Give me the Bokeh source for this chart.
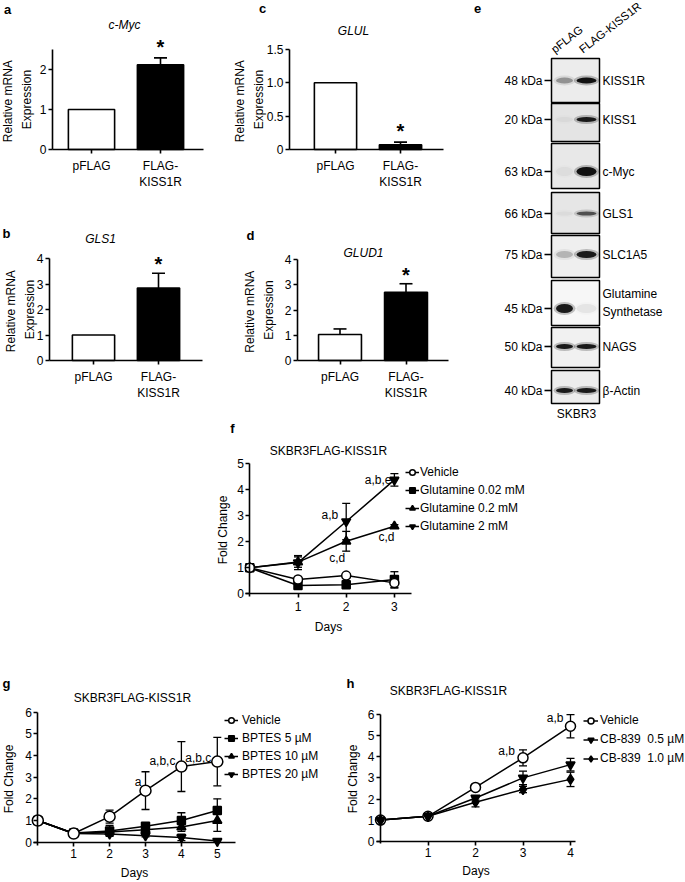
from bokeh.plotting import figure
from bokeh.models import (Range1d, Whisker, TeeHead, Label, Legend, LegendItem,
                          ColumnDataSource, Spacer)
from bokeh.layouts import row, column
from bokeh.embed import file_html
from bokeh.resources import INLINE
from bokeh.core.properties import value

FONT = "Liberation Sans"

# ------------------------------------------------------------------ data
bar_categories = ["pFLAG", "FLAG-\nKISS1R"]
bar_fills = ["white", "black"]

cmyc_mean = [1.0, 2.12]
cmyc_sem = [0.0, 0.17]
gls1_mean = [1.0, 2.84]
gls1_sem = [0.0, 0.58]
glul_mean = [1.0, 0.07]
glul_sem = [0.0, 0.04]
glud1_mean = [1.03, 2.70]
glud1_sem = [0.22, 0.34]

blot_lanes = ["pFLAG", "FLAG-KISS1R"]
blot_proteins = ["KISS1R", "KISS1", "c-Myc", "GLS1", "SLC1A5",
                 "Glutamine\nSynthetase", "NAGS", "β-Actin"]
blot_kda = ["48 kDa", "20 kDa", "63 kDa", "66 kDa", "75 kDa", "45 kDa", "50 kDa", "40 kDa"]
blot_pflag = [0.35, 0.04, 0.04, 0.04, 0.22, 0.95, 0.95, 0.95]
blot_kiss1r = [1.0, 0.95, 1.0, 0.65, 0.95, 0.06, 0.95, 0.95]

days_f = [0, 1, 2, 3]
f_vehicle = [1.0, 0.55, 0.70, 0.42]
f_vehicle_err = [0.0, 0.06, 0.06, 0.20]
f_gln002 = [1.0, 0.32, 0.35, 0.55]
f_gln002_err = [0.0, 0.05, 0.05, 0.30]
f_gln02 = [1.0, 1.22, 2.02, 2.60]
f_gln02_err = [0.0, 0.20, 0.38, 0.06]
f_gln2 = [1.0, 1.20, 2.78, 4.38]
f_gln2_err = [0.0, 0.27, 0.70, 0.24]

days_g = [0, 1, 2, 3, 4, 5]
g_vehicle = [1.0, 0.40, 1.18, 2.38, 3.49, 3.72]
g_vehicle_err = [0.0, 0.05, 0.30, 0.87, 1.15, 1.12]
g_bptes5 = [1.0, 0.42, 0.52, 0.74, 1.00, 1.46]
g_bptes5_err = [0.0, 0.05, 0.25, 0.10, 0.36, 0.54]
g_bptes10 = [1.0, 0.40, 0.47, 0.57, 0.70, 1.00]
g_bptes10_err = [0.0, 0.05, 0.10, 0.10, 0.20, 0.50]
g_bptes20 = [1.0, 0.40, 0.38, 0.30, 0.22, 0.05]
g_bptes20_err = [0.0, 0.05, 0.05, 0.05, 0.15, 0.05]

days_h = [0, 1, 2, 3, 4]
h_vehicle = [1.0, 1.18, 2.55, 3.95, 5.45]
h_vehicle_err = [0.0, 0.05, 0.08, 0.38, 0.55]
h_cb05 = [1.0, 1.18, 2.05, 3.00, 3.63]
h_cb05_err = [0.0, 0.05, 0.10, 0.32, 0.30]
h_cb10 = [1.0, 1.18, 1.85, 2.45, 2.93]
h_cb10_err = [0.0, 0.05, 0.22, 0.15, 0.34]


# ------------------------------------------------------------------ helpers
def make_fig(box, xmap, ymap):
    """box = (ox, oy, W, H) page position; xmap/ymap = (data ref, pixel ref, px per unit).
    The frame fills the whole figure; axes are drawn at fixed locations inside it."""
    ox, oy, W, H = box
    xr, pxr, sx = xmap
    yr, pyr, sy = ymap
    x0 = xr - (pxr - ox) / sx
    y1 = yr + (pyr - oy) / sy
    p = figure(width=W, height=H, x_range=Range1d(x0, x0 + W / sx),
               y_range=Range1d(y1 - H / sy, y1), output_backend="svg",
               toolbar_location=None, title=None, min_border=0)
    p.grid.visible = False
    p.outline_line_color = None
    p.background_fill_color = None
    return p


def style_axes(p, xbounds, ybounds, yloc, xloc):
    for ax in p.axis:
        ax.axis_line_color = "black"
        ax.axis_line_width = 1.6
        ax.major_tick_line_color = "black"
        ax.major_tick_line_width = 1.6
        ax.major_tick_out = 4
        ax.major_tick_in = 0
        ax.minor_tick_line_color = None
        ax.major_label_text_font = FONT
        ax.major_label_text_font_size = "12px"
        ax.major_label_text_color = "black"
        ax.major_label_standoff = 2
        ax.axis_label_text_font = FONT
        ax.axis_label_text_font_size = "12px"
        ax.axis_label_text_font_style = "normal"
        ax.axis_label_text_color = "black"
        ax.axis_label_text_line_height = 1.35
    p.xaxis.bounds = xbounds
    p.yaxis.bounds = ybounds
    p.yaxis.fixed_location = yloc
    p.xaxis.fixed_location = xloc


def screen_label(p, box, ix, iy, text, size="12px", style="normal"):
    ox, oy, W, H = box
    p.add_layout(Label(x=ix - ox, y=oy + H - iy, x_units="screen", y_units="screen",
                       text=text, text_font=FONT, text_font_size=size,
                       text_font_style=style, text_align="center",
                       text_baseline="middle", text_color="black"))


def bar_panel(box, xmap, ymap, xbounds, ybounds, yticks, title, letter, title_xy,
              letter_xy, means, sems, bar_w, star_off, ylab_standoff, yover=None):
    p = make_fig(box, xmap, ymap)
    xs = list(range(1, len(bar_categories) + 1))
    p.vbar(x=xs, top=means, width=bar_w, fill_color=bar_fills,
           line_color="black", line_width=1.6)
    ex = [x for x, s in zip(xs, sems) if s > 0]
    lo = [m for m, s in zip(means, sems) if s > 0]
    hi = [m + s for m, s in zip(means, sems) if s > 0]
    p.add_layout(Whisker(source=ColumnDataSource(dict(x=ex, lo=lo, hi=hi)),
                         base="x", lower="lo", upper="hi", line_color="black",
                         line_width=1.6,
                         upper_head=TeeHead(size=13, line_width=1.6, line_color="black"),
                         lower_head=None))
    p.add_layout(Label(x=xs[1], y=means[1] + sems[1], y_offset=star_off, text="*",
                       text_font=FONT, text_font_size="20px", text_font_style="bold",
                       text_align="center", text_baseline="middle", text_color="black"))
    style_axes(p, xbounds, ybounds, xbounds[0], 0)
    p.xaxis.ticker = xs
    p.xaxis.major_label_overrides = {x: c for x, c in zip(xs, bar_categories)}
    p.xaxis.major_label_standoff = 5
    p.yaxis.ticker = yticks
    if yover:
        p.yaxis.major_label_overrides = yover
    p.yaxis.axis_label = "Relative  mRNA\nExpression"
    p.yaxis.axis_label_standoff = ylab_standoff
    screen_label(p, box, title_xy[0], title_xy[1], title, style="italic")
    screen_label(p, box, letter_xy[0], letter_xy[1], letter, size="13px", style="bold")
    return p


def line_panel(box, xmap, ymap, xbounds, ybounds, days, yticks, series, order,
               legend_xy, legend_row, glyph_w, standoff, title_xy, letter, letter_xy,
               annots, ylab_standoff, xlab_standoff, tick_standoff):
    p = make_fig(box, xmap, ymap)
    for name, marker, vals, errs, fill, size in series:
        ex = [d for d, e in zip(days, errs) if e > 0]
        lo = [v - e for v, e in zip(vals, errs) if e > 0]
        hi = [v + e for v, e in zip(vals, errs) if e > 0]
        p.add_layout(Whisker(source=ColumnDataSource(dict(x=ex, lo=lo, hi=hi)),
                             base="x", lower="lo", upper="hi", line_color="black",
                             line_width=1.3,
                             upper_head=TeeHead(size=8, line_width=1.3, line_color="black"),
                             lower_head=TeeHead(size=8, line_width=1.3, line_color="black")))
    lines = {}
    for name, marker, vals, errs, fill, size in series:
        lines[name] = p.line(days, vals, line_color="black", line_width=1.5)
    marks = {}
    for idx in order:
        name, marker, vals, errs, fill, size = series[idx]
        marks[name] = p.scatter(days, vals, marker=marker, size=size,
                                fill_color=fill, line_color="black", line_width=1.5)
    items = [LegendItem(label=s[0], renderers=[lines[s[0]], marks[s[0]]]) for s in series]
    leg = Legend(items=items, location=legend_xy, padding=0, margin=0, spacing=0,
                 glyph_width=glyph_w, glyph_height=legend_row, label_height=legend_row,
                 label_standoff=standoff, label_text_font=FONT, label_text_font_size="12px",
                 label_text_color="black", background_fill_alpha=0, border_line_color=None)
    p.add_layout(leg)
    for text, sidx, di, align, dx, dy in annots:
        vals = series[sidx][2]
        p.add_layout(Label(x=days[di], y=vals[di], x_offset=dx, y_offset=-dy,
                           text=text, text_font=FONT, text_font_size="12px",
                           text_align=align, text_baseline="middle", text_color="black"))
    style_axes(p, xbounds, ybounds, 0, 0)
    p.xaxis.ticker = [d for d in days if d > 0]
    p.yaxis.ticker = yticks
    p.xaxis.axis_label = "Days"
    p.yaxis.axis_label = "Fold Change"
    p.yaxis.axis_label_standoff = ylab_standoff
    p.xaxis.axis_label_standoff = xlab_standoff
    p.xaxis.major_label_standoff = tick_standoff
    screen_label(p, box, title_xy[0], title_xy[1], "SKBR3FLAG-KISS1R")
    screen_label(p, box, letter_xy[0], letter_xy[1], letter, size="13px", style="bold")
    return p


# ------------------------------------------------------------------ bar panels a-d
BOX_A = (0, 0, 230, 190)
BOX_B = (0, 190, 230, 230)
BOX_C = (230, 0, 230, 190)
BOX_D = (230, 190, 230, 230)
fa = bar_panel(BOX_A, (1, 91, 69), (0, 149, 40), (0.435, 2.623), (0, 2.5), [0, 1, 2],
               "c-Myc", "a", (124, 24), (7, 9), cmyc_mean, cmyc_sem, 0.67, 11, 3)
fb = bar_panel(BOX_B, (1, 93, 65), (0, 360, 25.5), (0.323, 2.677), (0, 4), [0, 1, 2, 3, 4],
               "GLS1", "b", (100, 238), (6, 233), gls1_mean, gls1_sem, 0.65, 9, -3)
fc = bar_panel(BOX_C, (1, 335, 65), (0, 149, 66.7), (0.292, 2.662), (0, 1.5),
               [0, 0.5, 1.0, 1.5], "GLUL", "c", (353, 30), (262, 8), glul_mean, glul_sem,
               0.65, 11, -2, yover={0: "0", 0.5: "0.5", 1: "1.0", 1.5: "1.5"})
fd = bar_panel(BOX_D, (1, 339.5, 66), (0, 360, 25.25), (0.356, 2.644), (0, 4),
               [0, 1, 2, 3, 4], "GLUD1", "d", (363, 252), (250, 235), glud1_mean, glud1_sem,
               0.65, 9, 6)

# ------------------------------------------------------------------ western blot e
fe = figure(width=225, height=420, x_range=Range1d(460, 685), y_range=Range1d(420, 0),
            x_axis_location=None, y_axis_location=None, output_backend="svg",
            toolbar_location=None, min_border=0)
fe.grid.visible = False
fe.outline_line_color = None
BOX_EDGES = [(58, 102), (103, 141), (143, 188), (192, 233), (235, 277), (280, 325),
             (327, 367), (370, 403)]
BAND_Y = [80, 119, 171, 213, 254, 308, 346, 390]
BAND_H = [6, 5, 9, 4, 7, 9, 5, 5]
BOX_FILL = ["#ececec", "#e4e4e4", "#e8e8e8", "#e6e6e6", "#efefef", "#f7f7f7", "#f1f1f1", "#ededed"]
LANE_X = [564, 586]
fe.quad(left=551, right=599, top=[e[0] for e in BOX_EDGES], bottom=[e[1] for e in BOX_EDGES],
        fill_color=BOX_FILL, line_color="black", line_width=1.5)
for lx, inten, bw in zip(LANE_X, [blot_pflag, blot_kiss1r], [17, 20]):
    fe.ellipse(x=[lx] * len(BAND_Y), y=BAND_Y, width=bw + 5, height=[hh + 4 for hh in BAND_H],
               fill_color="#111111", fill_alpha=[0.25 * v for v in inten], line_color=None)
    fe.ellipse(x=[lx] * len(BAND_Y), y=BAND_Y, width=bw, height=BAND_H,
               fill_color="#111111", fill_alpha=inten, line_color=None)
fe.segment(x0=[544] * len(BAND_Y), y0=BAND_Y, x1=[551] * len(BAND_Y), y1=BAND_Y,
           line_color="black", line_width=1.6)
fe.text(x=[542] * len(BAND_Y), y=BAND_Y, text=blot_kda, text_align="right",
        text_baseline="middle", text_font=value(FONT), text_font_size="12px")
prot_y = [(e[0] + e[1]) / 2 if "\n" in n else by for n, e, by in zip(blot_proteins, BOX_EDGES, BAND_Y)]
fe.text(x=[602] * len(BAND_Y), y=prot_y, text=blot_proteins, text_align="left",
        text_baseline="middle", text_font=value(FONT), text_font_size="12px",
        text_line_height=1.3)
fe.text(x=[552, 580], y=[50, 50], text=blot_lanes, angle=0.66, text_align="left",
        text_baseline="middle", text_font=value(FONT), text_font_size="11.5px")
fe.text(x=[576], y=[413], text=["SKBR3"], text_align="center", text_baseline="middle",
        text_font=value(FONT), text_font_size="12px")
fe.text(x=[477], y=[8], text=["e"], text_align="center", text_baseline="middle",
        text_font=value(FONT), text_font_size="13px", text_font_style="bold")

# ------------------------------------------------------------------ line panels f-h
series_f = [
    ("Vehicle", "circle", f_vehicle, f_vehicle_err, "white", 9),
    ("Glutamine 0.02 mM", "square", f_gln002, f_gln002_err, "black", 8),
    ("Glutamine 0.2 mM", "triangle", f_gln02, f_gln02_err, "black", 9),
    ("Glutamine 2 mM", "inverted_triangle", f_gln2, f_gln2_err, "black", 9),
]
annots_f = [("a,b,e", 3, 3, "right", -3, 0), ("a,b", 3, 2, "right", -8, -7),
            ("c,d", 2, 2, "right", -1, 17), ("c,d", 2, 3, "center", -8, 11)]
BOX_F = (195, 420, 490, 230)
ff = line_panel(BOX_F, (0, 249.3, 48.2), (0, 593.3, 26), (-0.08, 3.35), (-0.12, 5), days_f,
                [0, 1, 2, 3, 4, 5], series_f, [1, 2, 3, 0], (210, 115), 18, 14, 1,
                (328, 450), "f", (232, 428), annots_f, 4, 6, 4)

series_g = [
    ("Vehicle", "circle", g_vehicle, g_vehicle_err, "white", 11),
    ("BPTES 5 µM", "square", g_bptes5, g_bptes5_err, "black", 8),
    ("BPTES 10 µM", "triangle", g_bptes10, g_bptes10_err, "black", 9),
    ("BPTES 20 µM", "inverted_triangle", g_bptes20, g_bptes20_err, "black", 9),
]
annots_g = [("a", 0, 3, "right", -4, -8.5), ("a,b,c", 0, 4, "right", -6, -6),
            ("a,b,c", 0, 5, "right", -6, -3.5)]
BOX_G = (0, 650, 345, 232)
fg = line_panel(BOX_G, (0, 37.3, 35.9), (0, 841.7, 21.67), (-0.12, 5.5), (-0.15, 6), days_g,
                [0, 1, 2, 3, 4, 5, 6], series_g, [1, 2, 3, 0], (224, 99), 18, 14, 4,
                (132, 697), "g", (6, 683), annots_g, 6, 4, 3)

series_h = [
    ("Vehicle", "circle", h_vehicle, h_vehicle_err, "white", 10),
    ("CB-839  0.5 µM", "inverted_triangle", h_cb05, h_cb05_err, "black", 9),
    ("CB-839  1.0 µM", "diamond", h_cb10, h_cb10_err, "black", 10),
]
annots_h = [("a,b", 0, 3, "right", -8, -7), ("a,b", 0, 4, "right", -7, -8)]
BOX_H = (345, 650, 340, 232)
fh = line_panel(BOX_H, (0, 380, 47.5), (0, 840.7, 21.1), (-0.08, 4.1), (-0.12, 6), days_h,
                [0, 1, 2, 3, 4, 5, 6], series_h, [0, 1, 2], (238, 114.5), 19, 15, 2,
                (448, 690), "h", (350, 683), annots_h, 5, 3, 3)

# ------------------------------------------------------------------ layout
top = row(column(fa, fb), column(fc, fd), fe)
mid = row(Spacer(width=195, height=230), ff)
bot = row(fg, fh)
lay = column(top, mid, bot)

open("out.html", "w").write(file_html(lay, INLINE, title="KISS1R glutamine figure"))
